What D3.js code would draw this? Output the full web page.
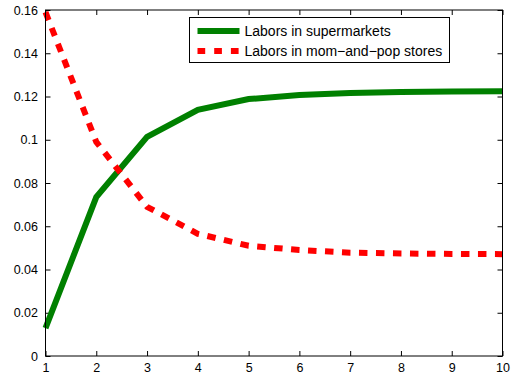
<!DOCTYPE html>
<html>
<head>
<meta charset="utf-8">
<script src="https://cdnjs.cloudflare.com/ajax/libs/d3/7.8.5/d3.min.js"></script>
<style>
  body { margin: 0; background: #fff; }
  svg text { font-family: "Liberation Sans", Arial, sans-serif; fill: #000; }
</style>
</head>
<body>
<div id="chart"></div>
<script>
// data
const periods = [1, 2, 3, 4, 5, 6, 7, 8, 9, 10];
const supermarkets = [0.0129, 0.0735, 0.1013, 0.1138, 0.1188, 0.1207, 0.1216, 0.1221, 0.1223, 0.1224];
const momAndPop = [0.159, 0.099, 0.069, 0.0565, 0.051, 0.049, 0.0478, 0.0474, 0.0472, 0.0471];
const xTicks = [1, 2, 3, 4, 5, 6, 7, 8, 9, 10];
const yTicks = [0, 0.02, 0.04, 0.06, 0.08, 0.1, 0.12, 0.14, 0.16];
const seriesNames = ["Labors in supermarkets", "Labors in mom\u2212and\u2212pop stores"];

const W = 515, H = 379;
const margin = {top: 10, right: 12.5, bottom: 23, left: 45.5};
const width = W - margin.left - margin.right;
const height = H - margin.top - margin.bottom;

const svg = d3.select("#chart").append("svg")
    .attr("width", W)
    .attr("height", H);
const g = svg.append("g")
    .attr("transform", "translate(" + margin.left + "," + margin.top + ")");

const x = d3.scaleLinear().domain([1, 10]).range([0, width]);
const y = d3.scaleLinear().domain([0, 0.16]).range([height, 0]);

const fmt = d => d === 0 ? "0" : String(+d.toFixed(2));

// axes with inward ticks, matlab style box
g.append("g")
    .attr("transform", "translate(0," + height + ")")
    .call(d3.axisBottom(x).tickValues(xTicks).tickSizeInner(-5).tickSizeOuter(0).tickPadding(7).tickFormat(d3.format("d")))
    .call(a => a.select(".domain").remove());
g.append("g")
    .call(d3.axisTop(x).tickValues(xTicks).tickSizeInner(-5).tickSizeOuter(0).tickFormat(""))
    .call(a => a.select(".domain").remove());
g.append("g")
    .call(d3.axisLeft(y).tickValues(yTicks).tickSizeInner(-5).tickSizeOuter(0).tickPadding(7.5).tickFormat(fmt))
    .call(a => a.select(".domain").remove());
g.append("g")
    .attr("transform", "translate(" + width + ",0)")
    .call(d3.axisRight(y).tickValues(yTicks).tickSizeInner(-5).tickSizeOuter(0).tickFormat(""))
    .call(a => a.select(".domain").remove());

g.selectAll(".tick text").attr("font-size", 12.5);

const line = d3.line()
    .x((d, i) => x(periods[i]))
    .y(d => y(d));

g.append("path")
    .datum(supermarkets)
    .attr("fill", "none")
    .attr("stroke", "#008000")
    .attr("stroke-width", 6)
    .attr("stroke-linejoin", "miter")
    .attr("d", line);

g.append("path")
    .datum(momAndPop)
    .attr("fill", "none")
    .attr("stroke", "#ff0000")
    .attr("stroke-width", 6)
    .attr("stroke-dasharray", "8.5,8.5")
    .attr("d", line);

// box
g.append("rect")
    .attr("width", width)
    .attr("height", height)
    .attr("fill", "none")
    .attr("stroke", "#000")
    .attr("stroke-width", 1);

// legend
const lg = svg.append("g").attr("transform", "translate(189.5,17.5)");
lg.append("rect")
    .attr("width", 260)
    .attr("height", 45)
    .attr("fill", "#fff")
    .attr("stroke", "#000")
    .attr("stroke-width", 1);
const styles = [
  {color: "#008000", dash: null},
  {color: "#ff0000", dash: "7.7,9"}
];
seriesNames.forEach((name, i) => {
  const row = lg.append("g").attr("transform", "translate(0," + (13.5 + i * 20) + ")");
  row.append("line")
      .attr("x1", 8).attr("x2", 50)
      .attr("stroke", styles[i].color)
      .attr("stroke-width", 6)
      .attr("stroke-dasharray", styles[i].dash);
  row.append("text")
      .attr("x", 55)
      .attr("dy", "0.35em")
      .attr("font-size", 14)
      .text(name);
});
</script>
</body>
</html>
